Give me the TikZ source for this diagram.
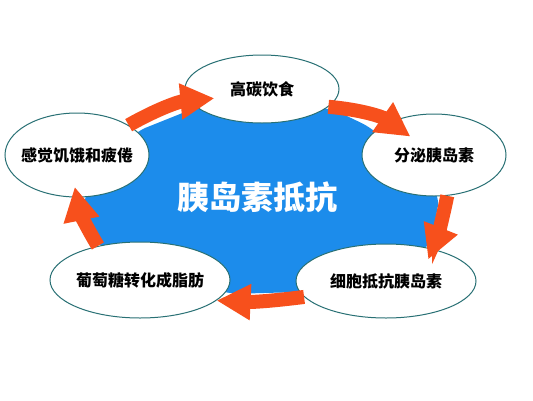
\documentclass[tikz,border=0pt]{standalone}
\usepackage{fontspec}
\usepackage{tikz}
\usetikzlibrary{shapes.geometric, arrows.meta, calc}
\newfontfamily\cjk{Noto Sans CJK SC}
\definecolor{coreblue}{RGB}{28,140,235}
\definecolor{cyclered}{RGB}{247,80,28}
\definecolor{rimteal}{RGB}{40,112,116}
\newcommand{\snug}[1]{\makebox[0pt]{#1}}

\begin{document}
\begin{tikzpicture}[
    x=1pt, y=-1pt,
    every node/.style={font=\cjk\bfseries\fontsize{16}{18}\selectfont},
    stage/.style={ellipse, draw=rimteal, line width=1pt, fill=white, inner sep=0pt},
    flow/.style={cyclered, line width=14pt, -{Triangle[length=34pt,width=34pt]}, bend left=#1},
    flow/.default=10
]
\useasboundingbox[fill=white] (0,0) rectangle (533,400);

% Blue core
\fill[coreblue, rounded corners=12pt] (135,132) -- (200,106) -- (330,108) -- (372,128)
    -- (440,195) -- (430,248) -- (300,292) -- (228,294) -- (97,246) -- (82,198) -- cycle;
\node[text=white, font=\cjk\bfseries\fontsize{32}{36}\selectfont] (core) at (257,197) {胰岛素抵抗};

% Stages
\node[stage, minimum width=154pt, minimum height=68pt] (food) at (262,89) {\snug{高碳饮食}};
\node[stage, minimum width=144pt, minimum height=82pt] (secrete) at (434,155) {\snug{分泌胰岛素}};
\node[stage, minimum width=180pt, minimum height=74pt] (resist) at (386,281) {\snug{细胞抵抗胰岛素}};
\node[stage, minimum width=180pt, minimum height=76pt] (fat) at (140,280) {\snug{葡萄糖转化成脂肪}};
\node[stage, minimum width=144pt, minimum height=84pt] (hunger) at (77,155) {\snug{感觉饥饿和疲倦}};

% Cycle
\draw[flow=12] (hunger.30) to ($(food.191)!0.33!(food.center)$);
\draw[flow=15] (food.-15) to ($(secrete.142)!0.45!(secrete.center)$);
\draw[flow=5] (secrete.-72) to ($(resist.27)!0.26!(resist.center)$);
\draw[flow=5] (resist.191) to (fat.-15);
\draw[flow=10] (fat.141) to ($(hunger.-94)!0.25!(hunger.center)$);
\end{tikzpicture}
\end{document}
